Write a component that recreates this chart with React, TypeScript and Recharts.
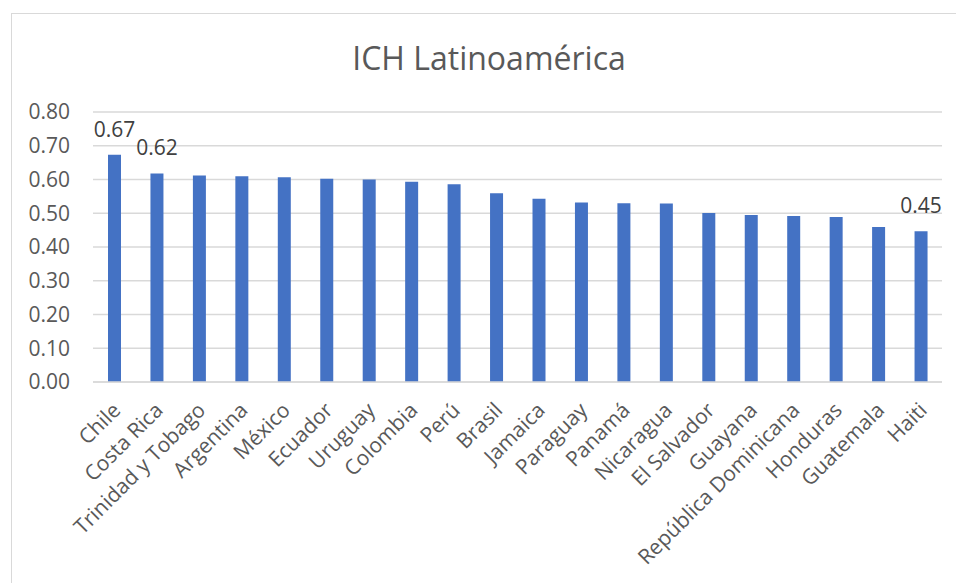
import React from 'react';
import { BarChart, Bar, XAxis, YAxis, CartesianGrid, LabelList } from 'recharts';

const COUNTRIES = [
  'Chile', 'Costa Rica', 'Trinidad y Tobago', 'Argentina', 'México', 'Ecuador',
  'Uruguay', 'Colombia', 'Perú', 'Brasil', 'Jamaica', 'Paraguay', 'Panamá',
  'Nicaragua', 'El Salvador', 'Guayana', 'República Dominicana', 'Honduras',
  'Guatemala', 'Haiti',
];

const ICH_VALUES = [
  0.673, 0.618, 0.612, 0.61, 0.607, 0.602, 0.6, 0.593, 0.586, 0.559, 0.543,
  0.532, 0.53, 0.529, 0.501, 0.495, 0.492, 0.489, 0.459, 0.447,
];

// only these countries get a value label
const LABELED = ['Chile', 'Costa Rica', 'Haiti'];

const Y_TICKS = [0, 0.1, 0.2, 0.3, 0.4, 0.5, 0.6, 0.7, 0.8];

const data = COUNTRIES.map((name, i) => ({ name, value: ICH_VALUES[i] }));

const FONT = '"Open Sans", sans-serif';

const ValueLabel = (props: any) => {
  const { x, y, width, value, index } = props;
  if (!LABELED.includes(COUNTRIES[index])) return null;
  return (
    <text
      x={x + width / 2}
      y={y - 18}
      textAnchor="middle"
      fontSize={21}
      fontFamily={FONT}
      fill="#404040"
    >
      {Number(value).toFixed(2)}
    </text>
  );
};

export default function App() {
  return (
    <div style={{ position: 'fixed', left: 0, top: 0, width: 956, height: 583, overflow: 'hidden', background: '#fff' }}>
      <div
        style={{
          position: 'absolute', left: 11, top: 13, width: 1000, height: 700,
          border: '1.5px solid #d9d9d9', boxSizing: 'border-box',
        }}
      />
      <div
        style={{
          position: 'absolute', left: 0, top: 36, width: 978, textAlign: 'center',
          fontFamily: FONT, fontSize: 32, color: '#595959', lineHeight: 'normal',
        }}
      >
        ICH Latinoamérica
      </div>
      <div style={{ position: 'absolute', left: 0, top: 0 }}>
        <BarChart
          width={956}
          height={583}
          data={data}
          margin={{ top: 112, right: 14, bottom: 11, left: 0 }}
        >
          <CartesianGrid vertical={false} stroke="#d9d9d9" strokeWidth={1.5} />
          <XAxis
            dataKey="name"
            interval={0}
            height={190}
            angle={-45}
            textAnchor="end"
            tickSize={0}
            tickMargin={19}
            axisLine={{ stroke: '#d9d9d9', strokeWidth: 1.5 }}
            tickLine={false}
            tick={{ fontSize: 21, fontFamily: FONT, fill: '#595959', dx: -3 }}
          />
          <YAxis
            domain={[0, 0.8]}
            ticks={Y_TICKS}
            width={93}
            tickSize={0}
            tickMargin={23}
            axisLine={false}
            tickLine={false}
            tickFormatter={(v: number) => v.toFixed(2)}
            tick={{ fontSize: 21, fontFamily: FONT, fill: '#595959' }}
          />
          <Bar dataKey="value" fill="#4472c4" barSize={13} isAnimationActive={false}>
            <LabelList dataKey="value" content={<ValueLabel />} />
          </Bar>
        </BarChart>
      </div>
    </div>
  );
}
